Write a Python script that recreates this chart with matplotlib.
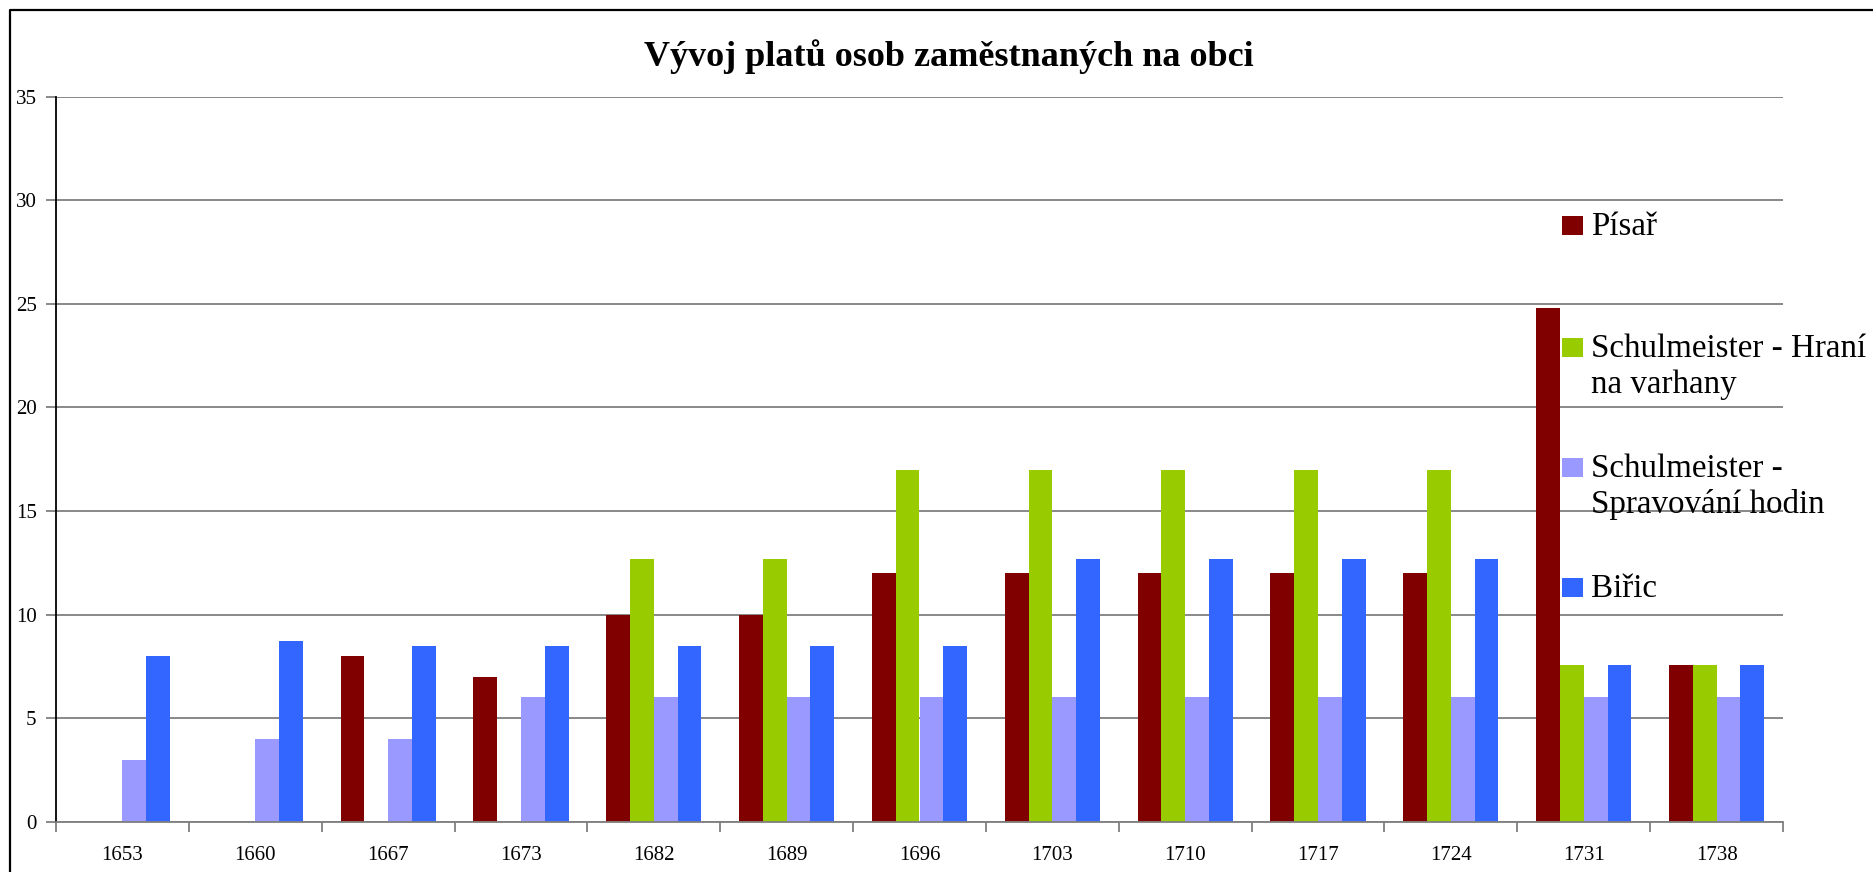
import numpy as np
import matplotlib
matplotlib.use("Agg")
import matplotlib.pyplot as plt
from matplotlib.patches import Rectangle
from matplotlib.lines import Line2D

plt.rcParams['font.family'] = ['Liberation Serif', 'DejaVu Serif']

title = "Vývoj platů osob zaměstnaných na obci"
years = ["1653", "1660", "1667", "1673", "1682", "1689", "1696", "1703",
         "1710", "1717", "1724", "1731", "1738"]
series_names = ["Písař", "Schulmeister - Hraní\nna varhany",
                "Schulmeister -\nSpravování hodin", "Biřic"]
pisar = [np.nan, np.nan, 8, 7, 10, 10, 12, 12, 12, 12, 12, 24.8, 7.55]
hrani = [np.nan, np.nan, np.nan, np.nan, 12.67, 12.67, 17, 17, 17, 17, 17, 7.55, 7.55]
sprav = [3, 4, 4, 6, 6, 6, 6, 6, 6, 6, 6, 6, 6]
biric = [8, 8.7, 8.5, 8.5, 8.5, 8.5, 8.5, 12.67, 12.67, 12.67, 12.67, 7.55, 7.55]
colors = ["#800000", "#99CC00", "#9999FF", "#3366FF"]
yticks = [0, 5, 10, 15, 20, 25, 30, 35]

W, H = 1874, 872
fig = plt.figure(figsize=(W / 100, H / 100), dpi=100)

def fx(px):
    return px / W

def fy(py):
    return 1 - py / H

ax_l, ax_r, ax_t, ax_b = 56, 1783, 96.7, 821.7
ax = fig.add_axes([fx(ax_l), fy(ax_b), fx(ax_r) - fx(ax_l), fy(ax_t) - fy(ax_b)])

n = len(years)
x = np.arange(n)
w = 0.179
data = [pisar, hrani, sprav, biric]
for i, (vals, c) in enumerate(zip(data, colors)):
    ax.bar(x + (i - 1.5) * w, vals, width=w, color=c, linewidth=0, zorder=2)

ax.set_xlim(-0.5, n - 0.5)
ax.set_ylim(0, 35)
ax.set_yticks(yticks)
ax.set_yticklabels([str(t) for t in yticks], fontsize=15)
ax.yaxis.grid(True, color="#7f7f7f", linewidth=1.3, zorder=0)
ax.set_axisbelow(True)

ax.set_xticks(np.arange(n + 1) - 0.5)
ax.set_xticklabels([])
ax.set_xticks(x, minor=True)
ax.set_xticklabels(years, minor=True, fontsize=15)
ax.tick_params(axis='x', which='major', direction='out', length=7, width=1.3, color="#7f7f7f")
ax.tick_params(axis='x', which='minor', length=0, pad=17.5)
ax.tick_params(axis='y', direction='out', length=7, width=1.3, color="#7f7f7f", pad=7)

for s in ['top', 'right']:
    ax.spines[s].set_visible(False)
ax.spines['left'].set_color('black')
ax.spines['left'].set_linewidth(1.3)
ax.spines['bottom'].set_color('#7f7f7f')
ax.spines['bottom'].set_linewidth(1.3)

fig.text(fx(948.5), fy(57), title, ha='center', va='center', fontsize=26, fontweight='bold')

# legend (drawn manually to match layout)
base_y = [235, 356.7, 476.7, 596.7]
line_pitch = 36.5
for i, (name, c) in enumerate(zip(series_names, colors)):
    by = base_y[i]
    fig.add_artist(Rectangle((fx(1562), fy(by - 9.3 + 9.5)), fx(21), 19 / H,
                             transform=fig.transFigure, color=c, linewidth=0))
    for j, line in enumerate(name.split("\n")):
        fig.text(fx(1591), fy(by + j * line_pitch), line, ha='left', va='baseline', fontsize=23.8)

# outer chart frame
fig.add_artist(Line2D([fx(10), fx(10), 1.01], [-0.01, fy(10), fy(10)],
                      transform=fig.transFigure, color='black', linewidth=1.6))

fig.savefig("out.png", dpi=100)
